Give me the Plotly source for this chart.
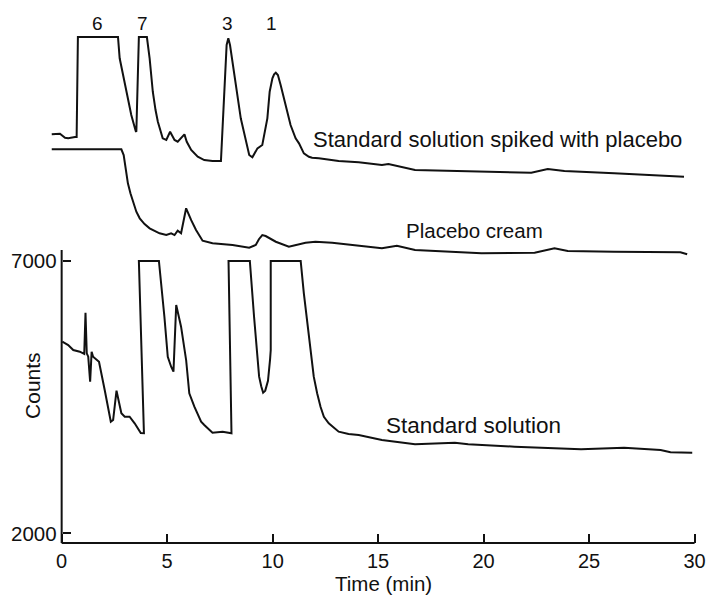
import plotly.graph_objects as go

# ---- data (time in min, counts) ----
spiked_t = [-0.47, -0.08, 0.16, 0.31, 0.63, 0.71, 0.77, 2.67, 2.75, 3.07, 3.30, 3.51, 3.54,
            3.66, 4.04, 4.17, 4.32, 4.45, 4.56, 4.79, 4.96, 5.14, 5.35, 5.50, 5.82, 5.93, 6.14,
            6.45, 6.76, 7.15, 7.55, 7.82, 7.90, 7.98, 8.10, 8.49, 8.89, 9.04, 9.28, 9.51,
            9.75, 9.86, 9.99, 10.07, 10.15, 10.25, 10.38, 10.49, 10.69, 10.85, 11.09, 11.25,
            11.48, 11.72, 11.87, 12.19, 13.13, 14.08, 15.18, 15.49,
            16.75, 19.90, 22.26, 23.04, 23.83, 26.19, 29.50]
spiked_c = [9326, 9337, 9264, 9253, 9277, 9277, 11113, 11113, 10722, 10108, 9681, 9387, 9374,
            11113, 11113, 10722, 10108, 9772, 9558, 9253, 9222, 9374, 9222, 9190, 9326, 9190, 9038,
            8915, 8854, 8836, 8836, 10966, 11089, 10966, 10659, 9620, 8946, 8904, 9069, 9130,
            9620, 10108, 10354, 10428, 10457, 10415, 10231, 10048, 9741, 9497, 9253, 9161,
            8977, 8915, 8897, 8886, 8836, 8812, 8763, 8781,
            8671, 8640, 8621, 8689, 8652, 8610, 8548]

placebo_t = [-0.47, 2.83, 2.94, 2.99, 3.14, 3.26, 3.38, 3.54, 3.70, 3.93, 4.17, 4.64, 4.96,
             5.19, 5.35, 5.50, 5.66, 5.90, 6.14, 6.37, 6.68, 7.15, 8.10, 8.89, 9.20, 9.35,
             9.51, 9.67, 10.15, 10.77, 11.56, 12.03, 12.82, 14.08, 15.18, 15.89, 16.75,
             19.90, 22.42, 23.36, 23.99, 26.19, 29.33, 29.65]
placebo_c = [9051, 9051, 8946, 8794, 8427, 8243, 8089, 7905, 7784, 7679, 7600, 7509, 7477,
             7509, 7477, 7556, 7509, 7968, 7750, 7569, 7373, 7325, 7294, 7244, 7294, 7400,
             7477, 7459, 7354, 7263, 7336, 7354, 7336, 7281, 7233, 7281, 7202,
             7141, 7152, 7233, 7184, 7171, 7160, 7123]

standard_t = [0.03, 0.31, 0.55, 0.86, 1.07, 1.13, 1.19, 1.26, 1.35, 1.42, 1.49, 1.77, 2.04,
              2.33, 2.44, 2.60, 2.83, 2.99, 3.22, 3.46, 3.75, 3.90, 3.66, 4.61, 4.87, 5.03,
              5.19, 5.30, 5.43, 5.66, 5.90, 6.05, 6.29, 6.61, 6.76, 7.15, 7.63, 8.05, 7.91,
              8.92, 9.12, 9.36, 9.46, 9.55, 9.65, 9.78, 9.88, 9.91, 9.91, 11.33, 11.48, 11.72,
              11.87, 11.95, 12.11, 12.27, 12.43, 12.66, 13.13, 13.60, 14.08, 15.18, 16.75,
              18.64, 19.27, 21.47, 24.62, 26.66, 28.39, 28.86, 29.89]
standard_c = [5518, 5458, 5366, 5335, 5293, 6051, 5305, 5243, 4784, 5335, 5243, 5151, 4632,
              4050, 4081, 4619, 4204, 4141, 4141, 4020, 3840, 3837, 7000, 7000, 5977, 5243,
              5059, 4968, 6192, 5794, 5182, 4571, 4325, 4050, 3990, 3848, 3866, 3837, 7000,
              7000, 5977, 4876, 4700, 4582, 4620, 4800, 5200, 5366, 7000, 7000, 6407, 5673,
              5182, 4876, 4571, 4325, 4141, 4020, 3866, 3824, 3805, 3714, 3635,
              3664, 3635, 3591, 3543, 3572, 3530, 3488, 3480]

x_ticks = [0, 5, 10, 15, 20, 25, 30]
y_ticks = [2000, 7000]
peak_labels = ["6", "7", "3", "1"]
peak_label_t = [1.71, 3.82, 7.88, 9.96]

# ---- layout constants ----
X_RANGE = [-0.6, 30.4]
Y_RANGE = [1749, 11609]
Y_AXIS_BASE = 1822
Y_AXIS_TOP = 7202
LINE = "#111111"
FONT = "Liberation Sans, Arial, sans-serif"

fig = go.Figure()
for tx, cy in [(spiked_t, spiked_c), (placebo_t, placebo_c), (standard_t, standard_c)]:
    fig.add_trace(go.Scatter(x=tx, y=cy, mode="lines",
                             line=dict(color=LINE, width=2), hoverinfo="skip"))

# axis lines
fig.add_shape(type="line", x0=0, x1=30, y0=Y_AXIS_BASE, y1=Y_AXIS_BASE,
              line=dict(color=LINE, width=2))
fig.add_shape(type="line", x0=0, x1=0, y0=Y_AXIS_BASE, y1=Y_AXIS_TOP,
              line=dict(color=LINE, width=2))

ann = []
for lab, t in zip(peak_labels, peak_label_t):
    ann.append(dict(x=t, y=11364, text=lab, showarrow=False, yanchor="middle",
                    font=dict(size=19, color=LINE, family=FONT)))
ann.append(dict(x=11.81, y=9240, text="Standard solution spiked with placebo", xanchor="left",
                yanchor="middle", showarrow=False, font=dict(size=22, color=LINE, family=FONT)))
ann.append(dict(x=16.23, y=7569, text="Placebo cream", xanchor="left", yanchor="middle",
                showarrow=False, font=dict(size=20.5, color=LINE, family=FONT)))
ann.append(dict(x=15.26, y=3984, text="Standard solution", xanchor="left", yanchor="middle",
                showarrow=False, font=dict(size=22.5, color=LINE, family=FONT)))
ann.append(dict(xref="paper", yref="paper", x=-0.0244, y=0.30, text="Counts", textangle=-90,
                xanchor="center", yanchor="middle",
                showarrow=False, font=dict(size=21, color=LINE, family=FONT)))
ann.append(dict(xref="paper", yref="paper", x=0.512, y=-0.068, text="Time (min)",
                xanchor="center", yanchor="middle",
                showarrow=False, font=dict(size=20.5, color=LINE, family=FONT)))

fig.update_layout(
    width=711, height=597,
    margin=dict(l=49, r=5, t=10, b=50),
    paper_bgcolor="white", plot_bgcolor="white",
    showlegend=False,
    annotations=ann,
    xaxis=dict(range=X_RANGE, showgrid=False, zeroline=False, showline=False,
               tickvals=x_ticks, ticks="inside", ticklen=9, tickwidth=1.5, tickcolor=LINE,
               anchor="free", position=(Y_AXIS_BASE - Y_RANGE[0]) / (Y_RANGE[1] - Y_RANGE[0]),
               ticklabelstandoff=4,
               tickfont=dict(size=20, color=LINE, family=FONT)),
    yaxis=dict(range=Y_RANGE, showgrid=False, zeroline=False, showline=False,
               tickvals=y_ticks, ticks="inside", ticklen=8, tickwidth=1.5, tickcolor=LINE,
               anchor="free", position=(0 - X_RANGE[0]) / (X_RANGE[1] - X_RANGE[0]),
               ticklabelstandoff=5,
               tickfont=dict(size=20.5, color=LINE, family=FONT)),
)

fig.write_html("out.html")
